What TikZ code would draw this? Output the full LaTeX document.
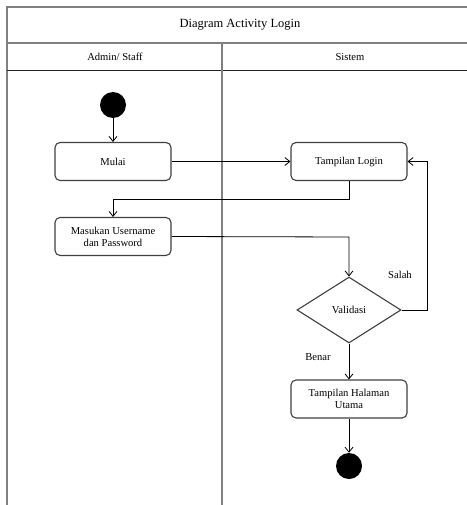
\documentclass[tikz,border=0pt]{standalone}
\usepackage{fontspec}
\setmainfont{Liberation Serif}
\usetikzlibrary{arrows.meta,shapes.geometric}
\begin{document}
\begin{tikzpicture}[x=1pt,y=-1pt,
  frame/.style={draw=black!50,line width=1.6pt},
  rule/.style={draw=black!85,line width=1pt},
  action/.style={draw=black!75,line width=1.1pt,rounded corners=5pt,fill=white,
    minimum width=116pt,minimum height=38pt,align=center,inner sep=2pt,
    font=\fontsize{10.6}{12}\selectfont},
  decision/.style={diamond,draw=black!75,line width=1.1pt,fill=white,aspect=1.6,
    minimum width=104pt,minimum height=66pt,inner sep=0pt,font=\fontsize{10.6}{12}\selectfont},
  dot/.style={circle,fill=black,minimum size=26pt,inner sep=0pt},
  flow/.style={draw=black,line width=0.8pt,-{Straight Barb[length=5pt,width=8pt]}},
  lbl/.style={font=\fontsize{10.6}{12}\selectfont}
]
\useasboundingbox (0,0) rectangle (466,505);
% swimlane frame
\draw[frame] (7,505) -- (7,7) -- (470,7);
\draw[frame] (7,43) -- (470,43);
\draw[rule] (7,71) -- (470,71);
\draw[frame] (222,43) -- (222,505);
\node[font=\fontsize{12.5}{14}\selectfont] (title) at (240,25) {Diagram\ Activity Login};
\node[lbl] (laneA) at (115,57) {Admin/ Staff};
\node[lbl] (laneS) at (350,57) {Sistem};

% nodes
\node[dot] (start) at (113,105) {};
\node[action] (mulai) at (113,161.5) {Mulai};
\node[action] (masuk) at (113,236.5) {Masukan Username\\dan Password};
\node[action] (login) at (349,161.5) {Tampilan Login};
\node[decision] (valid) at (349,310) {Validasi};
\node[action] (utama) at (349,399) {Tampilan Halaman\\Utama};
\node[dot] (stop) at (349,466) {};

\coordinate (c1) at (349,199);
\coordinate (c2) at (113,199);
\coordinate (c3) at (349,237);
\coordinate (c4) at (427,310);
\coordinate (c5) at (427,161.5);

% connectors
\draw[flow] (start) -- (mulai);
\draw[flow] (mulai) -- (login);
\draw[flow] (login.south) -- (c1) -- (c2) -- (masuk.north);
\draw[flow] (masuk.east) -- (c3) -- (valid.north);
\draw[flow] (valid.east) -- (c4) -- (c5) -- (login.east);
\draw[flow] (valid.south) -- (utama.north);
\draw[flow] (utama.south) -- (stop);

\node[lbl] (salah) at (400,275) {Salah};
\node[lbl] (benar) at (318,357) {Benar};
\end{tikzpicture}
\end{document}
